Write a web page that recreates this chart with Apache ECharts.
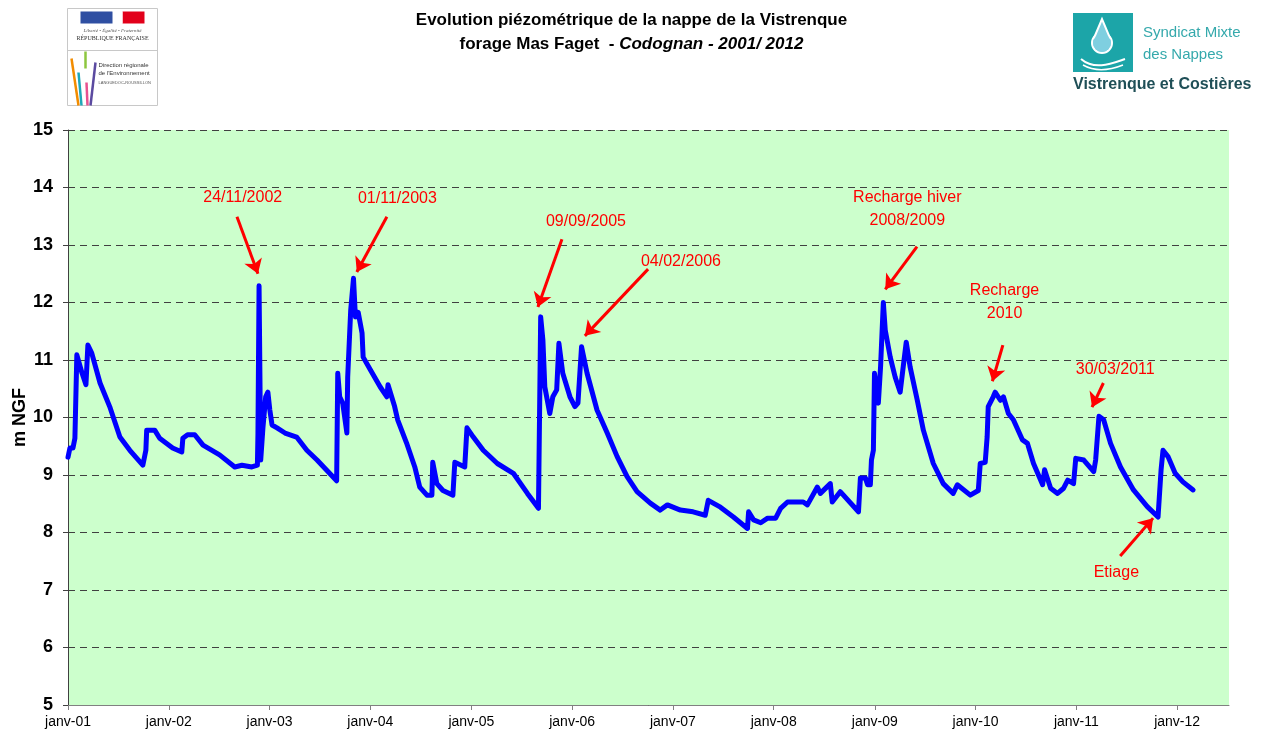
<!DOCTYPE html>
<html>
<head>
<meta charset="utf-8">
<title>Evolution piézométrique - forage Mas Faget</title>
<script src="https://cdn.jsdelivr.net/npm/echarts@6/dist/echarts.min.js"></script>
<style>
    html, body { margin: 0; padding: 0; background: #fff; }
    #chart { width: 1263px; height: 735px; }
</style>
</head>
<body>
<div id="chart"></div>
<script>
// niveaux relevés (m NGF)
var dates = [
    '2001-01-01', '2001-01-08', '2001-01-19', '2001-01-26', '2001-02-02', '2001-02-09', '2001-02-21', '2001-03-07', '2001-03-14', '2001-03-28',
    '2001-04-27', '2001-06-01', '2001-07-08', '2001-08-13', '2001-09-29', '2001-10-10', '2001-10-13', '2001-11-11', '2001-11-29',
    '2002-01-15', '2002-02-17', '2002-02-21', '2002-03-10', '2002-04-05', '2002-05-05', '2002-07-04', '2002-08-28', '2002-09-23', '2002-10-29',
    '2002-11-18', '2002-11-20', '2002-11-24', '2002-11-30', '2002-12-08', '2002-12-18', '2002-12-26',
    '2003-01-02', '2003-01-10', '2003-01-28', '2003-02-26', '2003-04-09', '2003-05-16', '2003-06-22', '2003-09-01', '2003-09-05', '2003-09-12',
    '2003-09-23', '2003-10-08', '2003-10-11', '2003-10-22', '2003-11-01', '2003-11-08', '2003-11-18', '2003-12-02', '2003-12-06',
    '2004-01-01', '2004-02-06', '2004-03-01', '2004-03-05', '2004-03-29', '2004-04-09', '2004-05-11', '2004-06-10', '2004-06-28', '2004-07-24',
    '2004-08-11', '2004-08-14', '2004-08-29', '2004-09-20', '2004-10-26', '2004-11-02', '2004-12-08', '2004-12-16',
    '2005-01-08', '2005-02-13', '2005-04-05', '2005-06-02', '2005-07-23', '2005-09-01', '2005-09-09', '2005-09-17', '2005-09-24', '2005-10-12',
    '2005-10-23', '2005-11-06', '2005-11-14', '2005-11-28', '2005-12-24',
    '2006-01-11', '2006-01-22', '2006-02-04', '2006-02-24', '2006-04-01', '2006-05-08', '2006-06-13', '2006-07-19', '2006-08-24', '2006-10-11',
    '2006-11-16', '2006-12-12',
    '2007-01-28', '2007-03-15', '2007-04-28', '2007-05-09', '2007-06-22', '2007-08-08', '2007-09-28', '2007-10-02', '2007-10-20', '2007-11-15',
    '2007-12-10',
    '2008-01-08', '2008-01-26', '2008-02-20', '2008-04-17', '2008-05-02', '2008-06-07', '2008-06-18', '2008-07-24', '2008-07-31', '2008-08-29',
    '2008-11-03', '2008-11-10', '2008-11-28', '2008-12-06', '2008-12-16', '2008-12-20', '2008-12-27', '2008-12-31',
    '2009-01-14', '2009-01-22', '2009-02-01', '2009-02-08', '2009-02-26', '2009-03-16', '2009-04-03', '2009-04-14', '2009-04-25', '2009-05-09',
    '2009-06-04', '2009-06-26', '2009-08-01', '2009-09-06', '2009-10-12', '2009-10-27', '2009-12-13',
    '2010-01-11', '2010-01-18', '2010-02-05', '2010-02-12', '2010-02-16', '2010-03-06', '2010-03-13', '2010-04-01', '2010-04-12', '2010-04-30',
    '2010-05-18', '2010-06-20', '2010-07-08', '2010-07-30', '2010-09-01', '2010-09-08', '2010-09-30', '2010-10-25', '2010-11-16', '2010-12-01',
    '2010-12-22', '2010-12-30',
    '2011-01-28', '2011-03-05', '2011-03-12', '2011-03-24', '2011-04-10', '2011-05-05', '2011-06-10', '2011-07-27', '2011-09-15', '2011-10-24',
    '2011-11-04', '2011-11-11', '2011-11-29', '2011-12-25',
    '2012-01-22', '2012-02-28'
];
var levels = [
    9.31, 9.47, 9.47, 9.64, 11.09, 11.09, 10.77, 10.57, 11.26, 11.12,
    10.6, 10.19, 9.66, 9.43, 9.17, 9.43, 9.78, 9.78, 9.64,
    9.47, 9.4, 9.64, 9.7, 9.7, 9.52, 9.35, 9.14, 9.17, 9.14,
    9.17, 9.73, 12.29, 9.26, 9.82, 10.36, 10.44,
    10.13, 9.87, 9.82, 9.73, 9.66, 9.43, 9.26, 8.9, 10.77, 10.36,
    10.25, 9.73, 10.7, 11.87, 12.42, 11.75, 11.83, 11.47, 11.05,
    10.83, 10.53, 10.36, 10.57, 10.19, 9.96, 9.56, 9.14, 8.79, 8.65,
    8.65, 9.22, 8.85, 8.73, 8.65, 9.22, 9.14, 9.82,
    9.66, 9.43, 9.2, 9.03, 8.68, 8.42, 11.75, 11.35, 10.53, 10.07,
    10.36, 10.48, 11.29, 10.77, 10.36,
    10.19, 10.25, 11.23, 10.77, 10.13, 9.73, 9.32, 8.97, 8.71, 8.51,
    8.39, 8.48,
    8.39, 8.36, 8.3, 8.56, 8.44, 8.27, 8.07, 8.36, 8.22, 8.17,
    8.25,
    8.25, 8.42, 8.53, 8.53, 8.48, 8.79, 8.68, 8.85, 8.53, 8.71,
    8.36, 8.95, 8.95, 8.83, 8.83, 9.26, 9.43, 10.77,
    10.25, 10.88, 12.0, 11.52, 11.05, 10.7, 10.44, 10.88, 11.31, 10.88,
    10.3, 9.78, 9.2, 8.85, 8.68, 8.83, 8.65,
    8.73, 9.2, 9.22, 9.66, 10.19, 10.36, 10.44, 10.3, 10.36, 10.07,
    9.96, 9.61, 9.55, 9.2, 8.83, 9.09, 8.77, 8.68, 8.77, 8.91,
    8.85, 9.29,
    9.26, 9.06, 9.26, 10.02, 9.96, 9.55, 9.14, 8.74, 8.45, 8.27,
    9.09, 9.43, 9.32, 9.03,
    8.88, 8.74
];

// annotations (texte, position du texte, départ et pointe de la flèche)
var noteTexts = ['24/11/2002', '01/11/2003', '09/09/2005', '04/02/2006', 'Recharge hiver\n2008/2009', 'Recharge\n2010', '30/03/2011', 'Etiage'];
var notePos = [['2002-09-26', 13.83], ['2004-04-08', 13.80], ['2006-02-20', 13.40], ['2007-01-30', 12.72], ['2009-04-29', 13.63], ['2010-04-16', 12.0], ['2011-05-22', 10.84], ['2011-05-26', 7.31]];
var arrowFrom = [['2002-09-05', 13.49], ['2004-03-01', 13.49], ['2005-11-25', 13.10], ['2006-10-03', 12.58], ['2009-06-03', 12.97], ['2010-04-10', 11.26], ['2011-04-09', 10.60], ['2011-06-09', 7.59]];
var arrowTo = [['2002-11-20', 12.50], ['2003-11-13', 12.53], ['2005-08-30', 11.92], ['2006-02-16', 11.42], ['2009-02-08', 12.23], ['2010-03-03', 10.63], ['2011-02-27', 10.18], ['2011-10-06', 8.25]];

var xMin = '2001-01-01';
var xMax = '2012-07-07';
var yMin = 5, yMax = 15, yStep = 1;

var seriesData = dates.map(function (d, i) { return [d, levels[i]]; });
var arrows = arrowFrom.map(function (p, i) { return [{ coord: p }, { coord: arrowTo[i] }]; });
var notes = noteTexts.map(function (t, i) { return { name: t, coord: notePos[i] }; });

var chart = echarts.init(document.getElementById('chart'));

var option = {
    animation: false,
    grid: {
        left: 68, top: 130, right: 34, bottom: 30,
        outerBoundsMode: 'none',
        containLabel: false,
        show: true, backgroundColor: '#CCFFCC', borderWidth: 0
    },
    xAxis: {
        type: 'time',
        min: xMin,
        max: xMax,
        splitNumber: 11,
        minInterval: 365 * 24 * 3600 * 1000,
        axisLine: { lineStyle: { color: '#808080', width: 1 } },
        axisTick: { show: true, length: 5, lineStyle: { color: '#808080' } },
        splitLine: { show: false },
        axisLabel: {
            color: '#000', fontFamily: 'Arial, Liberation Sans', fontSize: 14, margin: 10,
            showMaxLabel: false,
            formatter: function (val) {
                var y = new Date(val).getFullYear();
                return 'janv-' + String(y).slice(2);
            }
        }
    },
    yAxis: {
        type: 'value',
        min: yMin, max: yMax, interval: yStep,
        name: 'm NGF',
        nameLocation: 'middle',
        nameGap: 39,
        nameMoveOverlap: false,
        nameTextStyle: { color: '#000', fontFamily: 'Arial, Liberation Sans', fontWeight: 'bold', fontSize: 18 },
        axisLine: { show: true, lineStyle: { color: '#404040', width: 1 } },
        axisTick: { show: true, length: 5, lineStyle: { color: '#404040' } },
        splitLine: { show: true, lineStyle: { color: '#404040', width: 1, type: [7, 5] } },
        axisLabel: { color: '#000', fontFamily: 'Arial, Liberation Sans', fontWeight: 'bold', fontSize: 18, margin: 15 }
    },
    series: [{
        type: 'line',
        data: seriesData,
        showSymbol: false,
        lineStyle: { color: '#0000FF', width: 5, join: 'round', cap: 'round' },
        itemStyle: { color: '#0000FF' },
        markLine: {
            silent: true,
            symbol: ['none', 'arrow'],
            symbolSize: 14,
            label: { show: false },
            lineStyle: { color: '#FF0000', width: 3, type: 'solid' },
            data: arrows
        },
        markPoint: {
            silent: true,
            symbol: 'rect',
            symbolSize: 1,
            itemStyle: { color: 'rgba(0,0,0,0)' },
            label: {
                show: true, position: 'inside', color: '#FF0000',
                fontFamily: 'Arial, Liberation Sans', fontSize: 16, lineHeight: 23,
                formatter: function (p) { return p.name; }
            },
            data: notes
        }
    }],
    graphic: [
        // titre
        {
            type: 'text', left: 'center', top: 12,
            style: { text: 'Evolution piézométrique de la nappe de la Vistrenque', fill: '#000', font: 'bold 17px Arial, Liberation Sans' }
        },
        {
            type: 'text', left: 'center', top: 36,
            style: {
                text: '{a|forage Mas Faget  - }{b|Codognan - 2001/ 2012}',
                rich: {
                    a: { fill: '#000', font: 'bold 17px Arial, Liberation Sans' },
                    b: { fill: '#000', font: 'italic bold 17px Arial, Liberation Sans' }
                }
            }
        },
        // logo préfecture / DIREN
        {
            type: 'group', left: 65, top: 8,
            children: [
                { type: 'rect', shape: { x: 0, y: 0, width: 90, height: 97 }, style: { fill: '#fff', stroke: '#c8c8c8', lineWidth: 1 } },
                { type: 'line', shape: { x1: 0, y1: 42, x2: 90, y2: 42 }, style: { stroke: '#c8c8c8', lineWidth: 1 } },
                { type: 'rect', shape: { x: 13, y: 3, width: 32, height: 12 }, style: { fill: '#2F4FA2' } },
                { type: 'rect', shape: { x: 55, y: 3, width: 22, height: 12 }, style: { fill: '#E2001A' } },
                { type: 'polygon', shape: { points: [[45, 3], [55, 3], [55, 15], [46, 15], [50, 10]] }, style: { fill: '#fff' } },
                { type: 'text', style: { x: 45, y: 20, text: 'Liberté • Égalité • Fraternité', fill: '#555', font: 'italic 5px Liberation Serif', align: 'center' } },
                { type: 'text', style: { x: 45, y: 27, text: 'RÉPUBLIQUE FRANÇAISE', fill: '#333', font: '6px Liberation Serif', align: 'center' } },
                { type: 'line', shape: { x1: 4, y1: 50, x2: 11, y2: 97 }, style: { stroke: '#F28C00', lineWidth: 2.5 } },
                { type: 'line', shape: { x1: 11, y1: 64, x2: 14, y2: 97 }, style: { stroke: '#1FA8B8', lineWidth: 2.5 } },
                { type: 'line', shape: { x1: 18, y1: 43, x2: 18, y2: 60 }, style: { stroke: '#8DC63F', lineWidth: 2.5 } },
                { type: 'line', shape: { x1: 19, y1: 74, x2: 20, y2: 97 }, style: { stroke: '#E8528F', lineWidth: 2.5 } },
                { type: 'line', shape: { x1: 28, y1: 54, x2: 23, y2: 97 }, style: { stroke: '#5B4AA0', lineWidth: 2.5 } },
                { type: 'text', style: { x: 31, y: 53, text: 'Direction régionale\nde l\'Environnement', fill: '#333', font: '6px Arial, Liberation Sans', lineHeight: 8 } },
                { type: 'text', style: { x: 31, y: 72, text: 'LANGUEDOC-ROUSSILLON', fill: '#555', font: '4px Arial, Liberation Sans' } }
            ]
        },
        // logo syndicat
        {
            type: 'group', left: 1073, top: 13,
            children: [
                { type: 'rect', shape: { x: 0, y: 0, width: 60, height: 59 }, style: { fill: '#1CA5A8' } },
                { type: 'circle', shape: { cx: 29, cy: 30, r: 10 }, style: { fill: '#7FCFE0', stroke: '#fff', lineWidth: 2 } },
                { type: 'polygon', shape: { points: [[21, 25], [29, 6], [37, 25]] }, style: { fill: '#7FCFE0', stroke: '#fff', lineWidth: 2 } },
                { type: 'circle', shape: { cx: 29, cy: 30, r: 9 }, style: { fill: '#7FCFE0' } },
                { type: 'bezierCurve', shape: { x1: 8, y1: 46, x2: 52, y2: 46, cpx1: 22, cpy1: 58, cpx2: 40, cpy2: 50 }, style: { stroke: '#fff', lineWidth: 2, fill: null } },
                { type: 'bezierCurve', shape: { x1: 10, y1: 52, x2: 50, y2: 52, cpx1: 24, cpy1: 60, cpx2: 40, cpy2: 56 }, style: { stroke: '#fff', lineWidth: 1.5, fill: null } },
                { type: 'text', style: { x: 70, y: 12, text: 'Syndicat Mixte', fill: '#35A9AC', font: '15px Arial, Liberation Sans' } },
                { type: 'text', style: { x: 70, y: 34, text: 'des Nappes', fill: '#35A9AC', font: '15px Arial, Liberation Sans' } },
                { type: 'text', style: { x: 0, y: 64, text: 'Vistrenque et Costières', fill: '#1F4F57', font: 'bold 16px Arial, Liberation Sans' } }
            ]
        }
    ]
};

chart.setOption(option);
</script>
</body>
</html>
